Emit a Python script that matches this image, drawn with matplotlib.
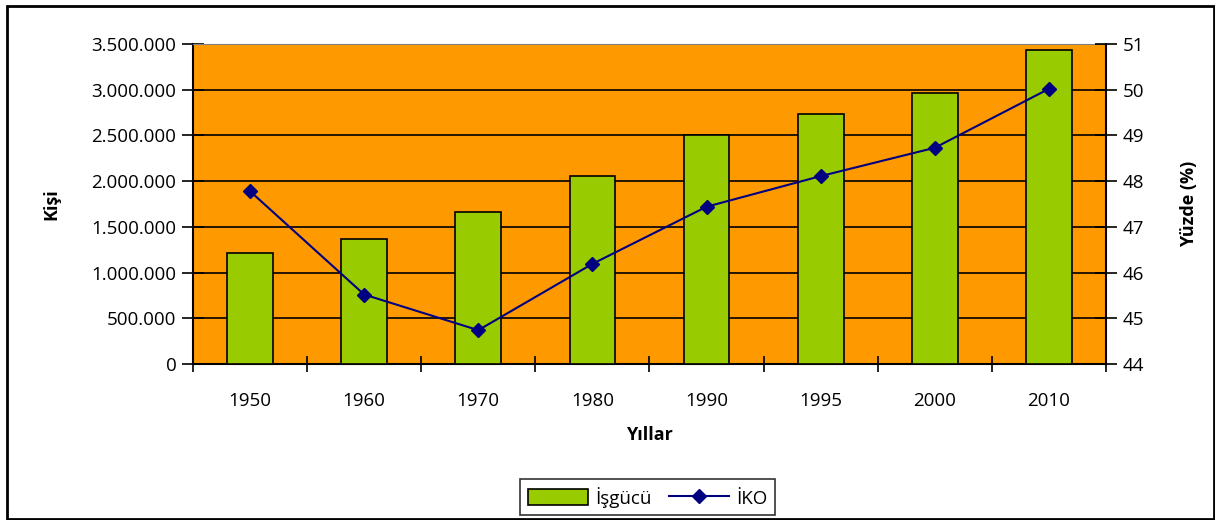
import numpy as np
import matplotlib.pyplot as plt
from matplotlib.patches import Rectangle

# veriler
yillar = ['1950', '1960', '1970', '1980', '1990', '1995', '2000', '2010']
isgucu = [1210000, 1367000, 1662000, 2053000, 2501000, 2734000, 2968000, 3438000]
iko = [47.78, 45.52, 44.74, 46.19, 47.44, 48.11, 48.73, 50.02]

plt.rcParams['font.family'] = ['Open Sans', 'DejaVu Sans']

fig = plt.figure(figsize=(12.15, 5.2), dpi=100)
ax = fig.add_axes([0.1588, 0.3, 0.7515, 0.6154])
ax.set_facecolor('#FF9900')

x = np.arange(len(yillar))
ax.bar(x, isgucu, width=0.4, color='#99CC00', edgecolor='black', linewidth=1.2,
       zorder=3, label='İşgücü')

ax.set_xlim(-0.5, len(yillar) - 0.5)
ax.set_ylim(0, 3500000)
yt = np.arange(0, 3500001, 500000)
ax.set_yticks(yt)
ax.set_yticklabels([f'{int(v):,}'.replace(',', '.') for v in yt])
ax.yaxis.grid(True, color='black', linewidth=1.2, zorder=1)
ax.set_axisbelow(True)

# kategori sınırlarında tikler
ax.set_xticks(np.arange(-0.5, len(yillar), 1.0))
ax.set_xticklabels([])
ax.set_xticks(x, minor=True)
ax.set_xticklabels(yillar, minor=True)
ax.tick_params(axis='x', which='major', direction='inout', length=12, width=1.2)
ax.tick_params(axis='x', which='minor', length=0, pad=20, labelsize=13.5)
ax.tick_params(axis='y', direction='inout', length=16, width=1.2, labelsize=13.5, pad=4)

for s in ['left', 'bottom']:
    ax.spines[s].set_linewidth(1.5)
ax.spines['right'].set_visible(False)
ax.spines['top'].set_color('#808080')
ax.spines['top'].set_zorder(4)

ax.set_ylabel('Kişi', fontsize=13, fontweight='bold', labelpad=22)
ax.set_xlabel('Yıllar', fontsize=13, fontweight='bold', labelpad=12)

ax2 = ax.twinx()
ax2.plot(x, iko, color='#000080', marker='D', markersize=7, linewidth=1.5,
         label='İKO', zorder=5)
ax2.set_ylim(44, 51)
ax2.set_yticks(range(44, 52))
ax2.tick_params(axis='y', direction='inout', length=16, width=1.2, labelsize=13.5, pad=4)
ax2.spines['right'].set_linewidth(1.5)
ax2.spines['left'].set_visible(False)
ax2.spines['top'].set_visible(False)
ax2.spines['bottom'].set_visible(False)
ax2.set_ylabel('Yüzde (%)', fontsize=13, fontweight='bold', labelpad=26)

h1, l1 = ax.get_legend_handles_labels()
h2, l2 = ax2.get_legend_handles_labels()
leg = fig.legend(h1 + h2, l1 + l2, loc='center', bbox_to_anchor=(0.533, 0.044),
                 ncol=2, fontsize=13.5, frameon=True, fancybox=False,
                 edgecolor='black', handlelength=3.2, handleheight=0.9,
                 columnspacing=0.9, handletextpad=0.4, borderpad=0.4)
leg.get_frame().set_linewidth(1.2)

fig.patches.append(Rectangle((0.006, 0.002), 0.993, 0.986, transform=fig.transFigure,
                             fill=False, edgecolor='black', linewidth=2))

plt.savefig('out.png', dpi=100)
